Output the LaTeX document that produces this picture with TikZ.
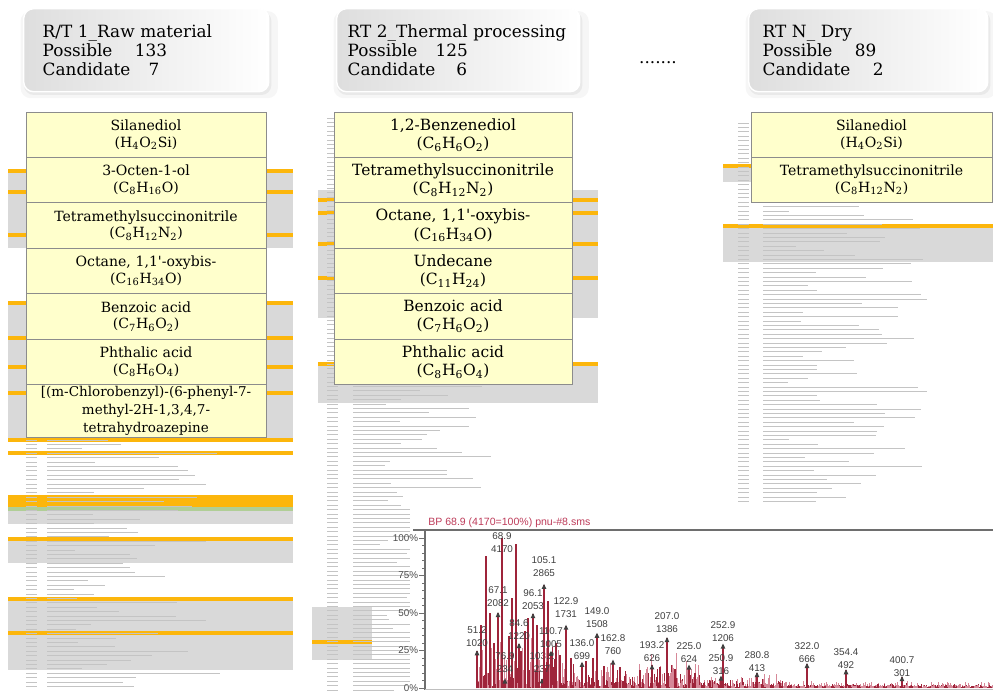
\documentclass[tikz,border=0pt]{standalone}
\usepackage{fontspec}
\setmainfont{DejaVu Serif}
\newfontfamily\specfont{Liberation Sans}
\usetikzlibrary{positioning, shadows}

\definecolor{cellfill}{RGB}{255,255,204}
\definecolor{cellline}{RGB}{140,140,140}
\definecolor{bandgrey}{RGB}{217,217,217}
\definecolor{bandorange}{RGB}{252,182,12}
\definecolor{bandgreen}{RGB}{176,206,150}
\definecolor{rowink}{RGB}{196,196,196}
\definecolor{peakred}{RGB}{158,36,58}
\definecolor{peakpink}{RGB}{214,136,152}
\definecolor{titlered}{RGB}{190,60,90}
\definecolor{axisgrey}{RGB}{110,110,110}

\tikzset{
  hdbox/.style={rounded corners=7pt, draw=white, line width=1pt,
    left color=black!13, right color=white, anchor=north west, align=left,
    inner ysep=0pt, minimum height=2.075cm, font=\fontsize{12}{13.5}\selectfont,
    drop shadow={shadow xshift=2pt, shadow yshift=-3pt, opacity=0.07, shadow scale=1.05},
    drop shadow={shadow xshift=1pt, shadow yshift=-2pt, opacity=0.10, shadow scale=1.01}},
  cell/.style={draw=cellline, fill=cellfill, line width=0.5pt, text width=#1,
    inner xsep=0pt, inner ysep=1pt, outer sep=0pt, align=center,
    minimum height=1.135cm, font=\fontsize{10}{11.8}\selectfont},
  cellbig/.style={cell=#1, font=\fontsize{11}{13}\selectfont},
  rowstub/.style={rowink, line width=0.55pt},
  noisepk/.style={peakpink, line width=0.55pt},
  mainpk/.style={peakred, line width=0.9pt},
  pkmark/.style={fill=black!75},
  pklabel/.style={anchor=south, align=center, inner sep=0.5pt, text=black!75,
    font=\specfont\fontsize{7}{9.5}\selectfont},
  pctlabel/.style={anchor=east, inner sep=0.5pt, text=black!70,
    font=\specfont\fontsize{7}{8}\selectfont}
}

\begin{document}
\begin{tikzpicture}[x=0.025cm, y=-0.025cm]
\useasboundingbox (0,0) rectangle (993,693);
\fill[white] (0,0) rectangle (993,693);
\pgfmathsetseed{42}

% highlighted rows of the result sheets
\foreach \xa/\xb/\ya/\yb in {8/293/171/248, 8/293/302/438, 8/293/511/524,
    8/293/541/563, 8/293/601/670, 318/598/190/318, 318/598/362/403,
    312/372/607/660, 723/993/168/182, 723/993/228/262}
  \fill[bandgrey] (\xa,\ya) rectangle (\xb,\yb);
\foreach \xa/\xb/\yc in {8/293/171, 8/293/192, 8/293/235, 8/293/303, 8/293/338,
    8/293/367, 8/293/393, 8/293/440, 8/293/453, 8/293/539, 8/293/599, 8/293/633,
    318/598/200, 318/598/213, 318/598/244, 318/598/278, 318/598/364,
    312/372/642, 723/993/166, 723/993/226}
  \fill[bandorange] (\xa,\yc-2) rectangle (\xb,\yc+2);
\fill[bandorange] (8,495) rectangle (293,507);
\fill[bandgreen] (8,507) rectangle (293,511);

% sheet rows
\foreach \ya/\yb/\nx/\tx/\tl in {440/690/26/47/150, 118/693/327/353/115, 123/512/738/763/140}{
  \pgfmathtruncatemacro\nrows{(\yb-\ya)/4.4}
  \foreach \k in {0,...,\nrows}{
    \pgfmathsetmacro\ry{\ya+4.4*\k}
    \pgfmathsetmacro\rl{25+\tl*rnd}
    \draw[rowstub] (\nx,\ry) -- ++(11,0) (\tx,\ry) -- ++(\rl,0);
  }
}

% mass spectrum
\fill[white] (410,505) rectangle (993,693);
\node[anchor=west, inner sep=0pt, text=titlered, font=\specfont\fontsize{7.5}{9}\selectfont]
  (sptitle) at (428,523) {BP 68.9 (4170=100\%) pnu-\#8.sms};
\draw[axisgrey, line width=1.4pt] (413,530) -- (993,530);
\draw[axisgrey, line width=0.8pt] (425,530) -- (425,690);
\draw[black!25, line width=0.5pt] (425,689) -- (993,689);
\foreach \k in {0,...,20}
  \draw[axisgrey, line width=0.5pt] (425,688-7.5*\k) -- ++(-3,0);
\foreach \p in {0,25,50,75,100}{
  \draw[axisgrey, line width=0.6pt] (425,688-1.5*\p) -- ++(-6,0);
  \node[pctlabel] (pct\p) at (419,688-1.5*\p) {\p\%};
}
\foreach \i in {0,...,460}{
  \pgfmathsetmacro\px{476+1.13*\i}
  \pgfmathsetmacro\cp{\px<560 ? 60 : (\px<700 ? 34 : (\px<790 ? 14 : 6))}
  \pgfmathsetmacro\ph{1.5+\cp*rnd*rnd}
  \pgfmathsetmacro\pq{1+0.7*\cp*rnd*rnd}
  \draw[noisepk] (\px,688) -- (\px,688-\ph);
  \draw[peakred, line width=0.5pt] (\px+0.55,688) -- (\px+0.55,688-\pq);
}
\foreach \px/\pf in {481/0.42, 486/0.88, 490/0.5, 494/0.3, 509/0.35, 512/0.6,
    516/0.96, 521/0.25, 525/0.38, 528/0.47, 537/0.42, 548/0.58, 556/0.30,
    560/0.22, 571/0.2, 586/0.18, 593/0.2, 604/0.15, 620/0.14, 640/0.12,
    660/0.14, 675/0.13}
  \draw[mainpk] (\px,688) -- (\px,688-150*\pf);
\draw[mainpk] (502,688) -- (502,538);
\node[pklabel] (pk689) at (502,554) {68.9\\4170};
\foreach \px/\pint/\pmz/\ly/\nm in {477/1020/51.2/642/a, 498/2082/67.1/602/b,
    505/234/76.9/668/c, 519/1220/84.6/635/d, 533/2053/96.1/605/e,
    542/237/103.2/668/f, 544/2865/105.1/572/g, 551/1005/110.7/643/h,
    566/1731/122.9/613/i, 582/699/136.0/655/j, 597/1508/149.0/623/k,
    613/760/162.8/650/l, 652/626/193.2/657/m, 667/1386/207.0/628/n,
    689/624/225.0/658/o, 723/1206/252.9/637/p, 721/316/250.9/670/q,
    757/413/280.8/667/r, 807/666/322.0/658/s, 846/492/354.4/664/t,
    902/301/400.7/672/u}{
  \pgfmathsetmacro\pt{688-\pint/27.8}
  \draw[mainpk] (\px,688) -- (\px,\pt);
  \fill[pkmark] (\px,\pt-1) -- ++(-2.4,5) -- ++(4.8,0) -- cycle;
  \node[pklabel] (pk\nm) at (\px,\ly+5.5) {\pmz\\\pint};
}

% compound tables
\node[cell=6cm, anchor=north west] (t1a) at (26,112) {Silanediol\\(H\textsubscript{4}O\textsubscript{2}Si)};
\node[cell=6cm, below=0pt of t1a] (t1b) {3-Octen-1-ol\\(C\textsubscript{8}H\textsubscript{16}O)};
\node[cell=6cm, below=0pt of t1b] (t1c) {Tetramethylsuccinonitrile\\(C\textsubscript{8}H\textsubscript{12}N\textsubscript{2})};
\node[cell=6cm, below=0pt of t1c] (t1d) {Octane, 1,1\textquotesingle-oxybis-\\(C\textsubscript{16}H\textsubscript{34}O)};
\node[cell=6cm, below=0pt of t1d] (t1e) {Benzoic acid\\(C\textsubscript{7}H\textsubscript{6}O\textsubscript{2})};
\node[cell=6cm, below=0pt of t1e] (t1f) {Phthalic acid\\(C\textsubscript{8}H\textsubscript{6}O\textsubscript{4})};
\node[cell=6cm, below=0pt of t1f, minimum height=1.325cm, font=\fontsize{9.6}{12.8}\selectfont] (t1g)
  {[(m-Chlorobenzyl)-(6-phenyl-7-\\methyl-2H-1,3,4,7-\\tetrahydroazepine};

\node[cellbig=5.95cm, anchor=north west] (t2a) at (334,112) {1,2-Benzenediol\\(C\textsubscript{6}H\textsubscript{6}O\textsubscript{2})};
\node[cellbig=5.95cm, below=0pt of t2a] (t2b) {Tetramethylsuccinonitrile\\(C\textsubscript{8}H\textsubscript{12}N\textsubscript{2})};
\node[cellbig=5.95cm, below=0pt of t2b] (t2c) {Octane, 1,1\textquotesingle-oxybis-\\(C\textsubscript{16}H\textsubscript{34}O)};
\node[cellbig=5.95cm, below=0pt of t2c] (t2d) {Undecane\\(C\textsubscript{11}H\textsubscript{24})};
\node[cellbig=5.95cm, below=0pt of t2d] (t2e) {Benzoic acid\\(C\textsubscript{7}H\textsubscript{6}O\textsubscript{2})};
\node[cellbig=5.95cm, below=0pt of t2e] (t2f) {Phthalic acid\\(C\textsubscript{8}H\textsubscript{6}O\textsubscript{4})};

\node[cell=6.025cm, anchor=north west] (t3a) at (751,112) {Silanediol\\(H\textsubscript{4}O\textsubscript{2}Si)};
\node[cell=6.025cm, below=0pt of t3a] (t3b) {Tetramethylsuccinonitrile\\(C\textsubscript{8}H\textsubscript{12}N\textsubscript{2})};

% retention time headers
\node[hdbox, text width=5.175cm, inner xsep=0.475cm] (hd1) at (23,8)
  {R/T 1\_Raw material\\Possible\hspace{16pt}133\\Candidate\hspace{13pt}7};
\node[hdbox, text width=5.525cm, inner xsep=0.275cm] (hd2) at (336,8)
  {RT 2\_Thermal processing\\Possible\hspace{13pt}125\\Candidate\hspace{15pt}6};
\node[hdbox, text width=5.275cm, inner xsep=0.35cm] (hd3) at (748,8)
  {RT N\_ Dry\\Possible\hspace{16pt}89\\Candidate\hspace{16pt}2};
\node[anchor=base, font=\fontsize{12}{13}\selectfont] (gap) at (658,63) {.......};
\end{tikzpicture}
\end{document}
